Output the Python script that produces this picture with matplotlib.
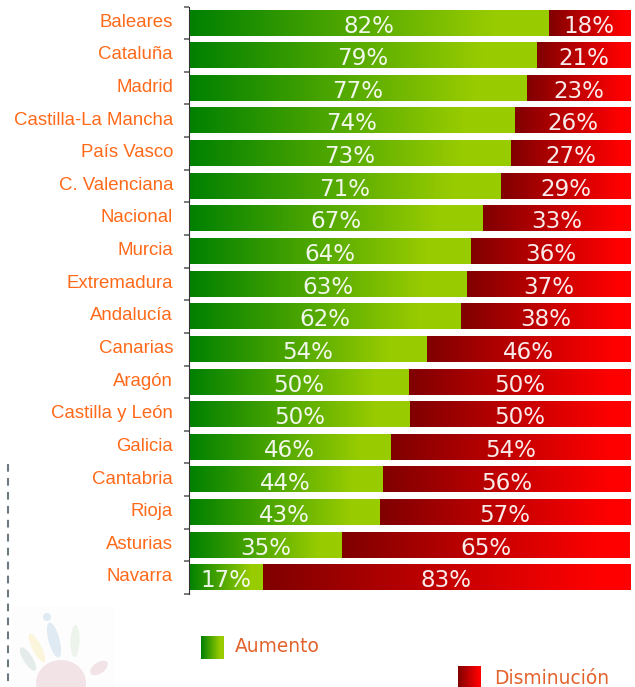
import numpy as np
import matplotlib
matplotlib.use('Agg')
import matplotlib.pyplot as plt
from matplotlib.colors import LinearSegmentedColormap
from matplotlib.patches import Ellipse, Rectangle

# DATA
regions = ['Baleares', 'Cataluña', 'Madrid', 'Castilla-La Mancha', 'País Vasco', 'C. Valenciana',
           'Nacional', 'Murcia', 'Extremadura', 'Andalucía', 'Canarias', 'Aragón',
           'Castilla y León', 'Galicia', 'Cantabria', 'Rioja', 'Asturias', 'Navarra']
aumento = [81.6, 78.9, 76.6, 73.9, 73.0, 70.7, 66.6, 63.9, 63.0, 61.6, 53.9, 49.8, 50.1, 45.7, 43.9, 43.2, 34.8, 16.7]
aumento_labels = [82, 79, 77, 74, 73, 71, 67, 64, 63, 62, 54, 50, 50, 46, 44, 43, 35, 17]
disminucion_labels = [18, 21, 23, 26, 27, 29, 33, 36, 37, 38, 46, 50, 50, 54, 56, 57, 65, 83]

W, H = 635, 687
green_map = LinearSegmentedColormap.from_list('up', [(0, '#008000'), (0.85, '#99cc00'), (1, '#99cc00')])
red_map = LinearSegmentedColormap.from_list('down', [(0, '#800000'), (0.92, '#ff0000'), (1, '#ff0000')])
ramp = np.linspace(0, 1, 256).reshape(1, -1)
bar_h = 0.78

fig = plt.figure(figsize=(W / 100, H / 100), dpi=100)

# Background overlay in pixel coordinates: watermark hand and dashed line
bg = fig.add_axes([0, 0, 1, 1])
bg.set_xlim(0, W)
bg.set_ylim(H, 0)
bg.axis('off')
bg.add_patch(Rectangle((12, 606), 103, 81, color='#fdfdfd', lw=0))
bg.plot([7.5, 7.5], [464, 687], color='#6e7a82', lw=1.5, dashes=(3.7, 3), dash_capstyle='butt')
for x, y, w, h, ang, col in [(47, 617, 8, 8, 0, '#dfeaf3'), (54, 640, 11, 36, -15, '#dfeaf3'),
                             (75, 641, 9, 32, 2, '#edf4ec'), (37, 648, 9, 32, -27, '#fbf5dc'),
                             (28, 659, 9, 27, -32, '#e3ecea'), (61, 683, 50, 46, 0, '#f2e3e7'),
                             (99, 668, 11, 20, 55, '#f2e3e7')]:
    bg.add_patch(Ellipse((x, y), w, h, angle=ang, color=col, lw=0))

# Main chart
ax = fig.add_axes([189 / W, 1 - 594 / H, 441 / W, 587.5 / H])
ax.patch.set_alpha(0)
n = len(regions)
for i, (a, up, down) in enumerate(zip(aumento, aumento_labels, disminucion_labels)):
    ax.imshow(ramp, cmap=green_map, extent=[0, a, i + bar_h / 2, i - bar_h / 2], aspect='auto', zorder=2)
    ax.imshow(ramp, cmap=red_map, extent=[a, 100, i + bar_h / 2, i - bar_h / 2], aspect='auto', zorder=2)
    ax.text(a / 2, i + 0.1, f'{up}%', color='white', alpha=0.92, ha='center', va='center', fontsize=16.6, zorder=3)
    ax.text((a + 100) / 2, i + 0.1, f'{down}%', color='white', alpha=0.92, ha='center', va='center', fontsize=16.6, zorder=3)

ax.set_xlim(0, 100)
ax.set_ylim(n - 0.5, -0.5)
ax.set_xticks([])
ax.set_yticks(np.arange(n + 1) - 0.5)
ax.set_yticklabels([])
ax.tick_params(axis='y', length=3.8, width=1.1, color='#555555')
for s in ['top', 'right', 'bottom']:
    ax.spines[s].set_visible(False)
ax.spines['left'].set_color('#333333')
ax.spines['left'].set_zorder(5)

for i, name in enumerate(regions):
    ax.annotate(name, xy=(0, i), xytext=(-11.5, 0.5), textcoords='offset points',
                ha='right', va='center', color='#ff6a1a', fontsize=13.4, family='Liberation Sans')

# Legend
for x0, y0, y1, cmap, label, tx, ty in [(201, 636, 659, green_map, 'Aumento', 235, 647),
                                        (458, 666, 687, red_map, 'Disminución', 494, 679)]:
    leg = fig.add_axes([x0 / W, 1 - y1 / H, 23 / W, (y1 - y0) / H])
    leg.imshow(ramp, cmap=cmap, aspect='auto')
    leg.axis('off')
    fig.text(tx / W, 1 - ty / H, label, color='#e2622c', fontsize=13.4, ha='left', va='center')

fig.savefig('out.png', dpi=100)
